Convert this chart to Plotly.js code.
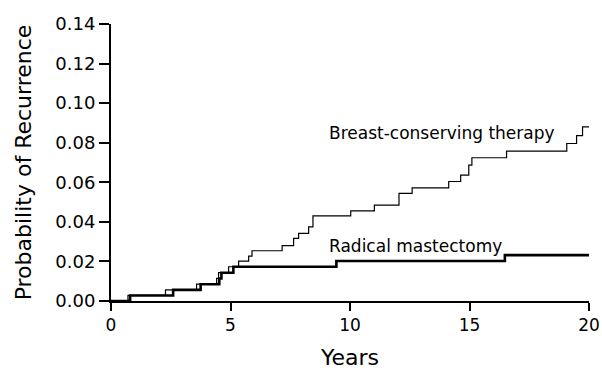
<!DOCTYPE html>
<html>
<head>
<meta charset="utf-8">
<script src="https://cdn.plot.ly/plotly-3.0.1.min.js"></script>
<style>
html,body{margin:0;padding:0;background:#fff;}
#chart{width:602px;height:370px;}
</style>
</head>
<body>
<div id="chart"></div>
<script>
// Breast-conserving therapy (thin line): step times (years) and cumulative probability
const bctYears = [0, 0.71, 2.28, 3.58, 4.42, 4.50, 4.92, 5.34, 5.76, 5.90, 7.16, 7.64, 7.85, 8.27, 8.45, 10.03, 11.02, 12.05, 12.60, 14.13, 14.63, 14.97, 15.10, 16.55, 19.07, 19.48, 19.73, 20.0];
const bctProb  = [0, 0.0028, 0.0056, 0.0085, 0.0114, 0.0143, 0.0173, 0.0202, 0.0227, 0.0254, 0.0280, 0.0317, 0.0342, 0.0375, 0.0430, 0.0456, 0.0485, 0.0544, 0.0572, 0.0604, 0.0636, 0.0687, 0.0724, 0.0757, 0.0796, 0.0836, 0.0880, 0.0880];

// Radical mastectomy (thick line)
const rmYears = [0, 0.80, 2.60, 3.75, 4.53, 4.62, 5.12, 9.43, 16.48, 20.0];
const rmProb  = [0, 0.0028, 0.0056, 0.0085, 0.0114, 0.0143, 0.0173, 0.0202, 0.0232, 0.0232];

const xTicks = [0, 5, 10, 15, 20];
const yTicks = [0, 0.02, 0.04, 0.06, 0.08, 0.10, 0.12, 0.14];
const yTickText = ['0.00', '0.02', '0.04', '0.06', '0.08', '0.10', '0.12', '0.14'];

const labels = ['Breast-conserving therapy', 'Radical mastectomy'];
const labelX = [9.02, 9.02];
const labelY = [0.0848, 0.0280];

const FONT = 'DejaVu Sans, Arial, sans-serif';

const traces = [
  {x: rmYears, y: rmProb, type: 'scatter', mode: 'lines', line: {shape: 'hv', color: '#000', width: 2.6}, hoverinfo: 'skip'},
  {x: bctYears, y: bctProb, type: 'scatter', mode: 'lines', line: {shape: 'hv', color: '#000', width: 1.2}, hoverinfo: 'skip'}
];

const layout = {
  width: 602, height: 370,
  margin: {l: 111, r: 13, t: 24, b: 69, pad: 0},
  paper_bgcolor: '#fff', plot_bgcolor: '#fff',
  showlegend: false,
  font: {family: FONT, color: '#000'},
  xaxis: {
    range: [0, 20], tickvals: xTicks, ticktext: xTicks.map(String),
    showline: true, linecolor: '#000', linewidth: 2,
    ticks: 'outside', ticklen: 8, tickwidth: 2, tickcolor: '#000',
    showgrid: false, zeroline: false,
    tickfont: {family: FONT, size: 17, color: '#000'},
    title: {text: 'Years', font: {family: FONT, size: 22, color: '#000'}, standoff: 22}
  },
  yaxis: {
    range: [0, 0.14], tickvals: yTicks, ticktext: yTickText,
    showline: true, linecolor: '#000', linewidth: 2,
    ticks: 'outside', ticklen: 10, tickwidth: 2, tickcolor: '#000',
    showgrid: false, zeroline: false,
    tickfont: {family: FONT, size: 18, color: '#000'},
    title: {text: 'Probability of Recurrence', font: {family: FONT, size: 22, color: '#000'}, standoff: 18}
  },
  annotations: labels.map((t, i) => ({
    x: labelX[i], y: labelY[i], xref: 'x', yref: 'y', text: t, showarrow: false,
    xanchor: 'left', yanchor: 'middle',
    font: {family: FONT, size: 17, color: '#000'}
  }))
};

Plotly.newPlot('chart', traces, layout, {staticPlot: true, displayModeBar: false});
</script>
</body>
</html>
